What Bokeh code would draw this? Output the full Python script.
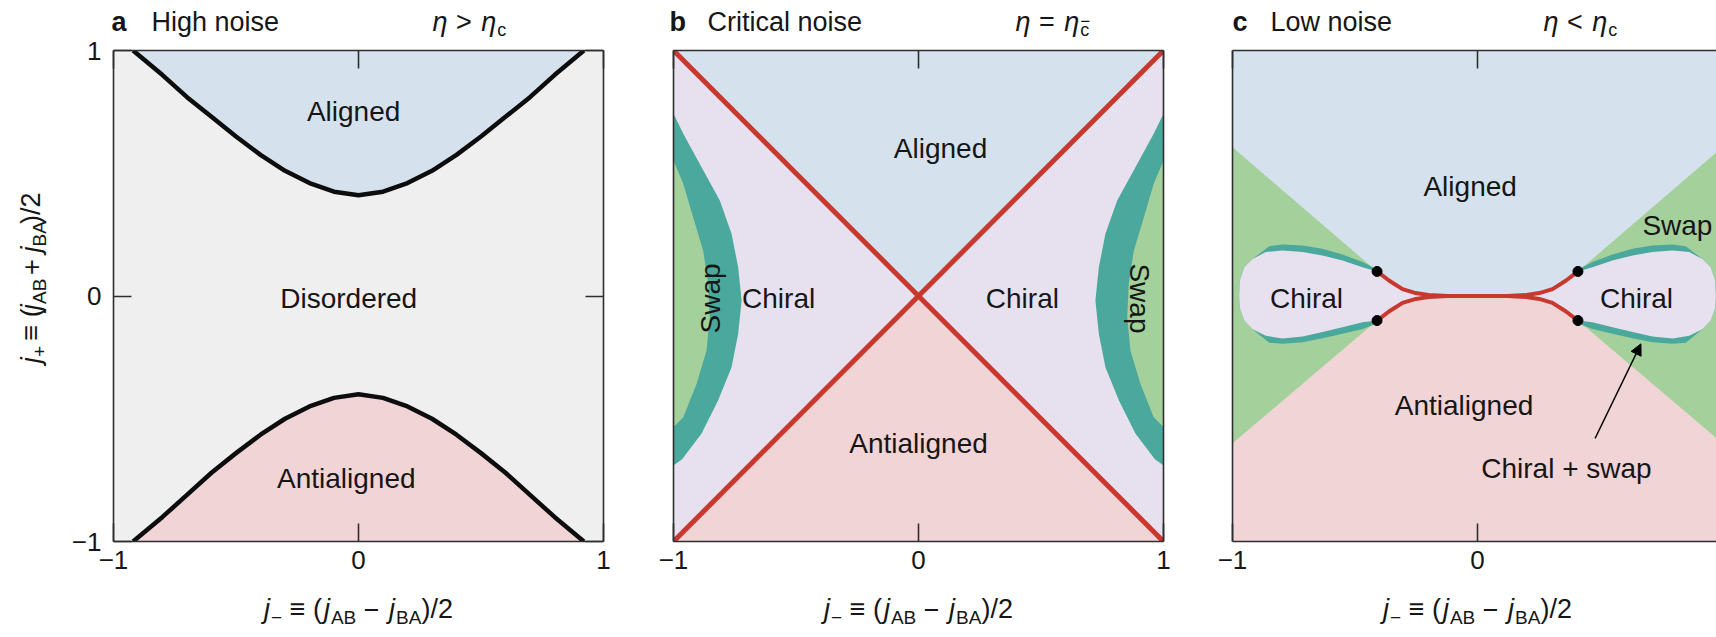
import math
import numpy as np
from bokeh.plotting import figure
from bokeh.layouts import row, column
from bokeh.models import LinearAxis, FixedTicker, Range1d, Arrow, NormalHead
from bokeh.embed import file_html
from bokeh.resources import INLINE
from bokeh.core.properties import value

# ---------------- data ----------------
tick_values = [-1, 0, 1]
tick_labels = ["−1", "0", "1"]

panel_letters = ["a", "b", "c"]
panel_titles = ["High noise", "Critical noise", "Low noise"]
panel_relations = [" > ", " = ", " < "]

# panel a : black phase boundaries
a_x = [-0.92, -0.8, -0.7, -0.6, -0.5, -0.4, -0.3, -0.2, -0.1, 0.0,
       0.1, 0.2, 0.3, 0.4, 0.5, 0.6, 0.7, 0.8, 0.92]
a_upper = [1.0, 0.90, 0.81, 0.73, 0.65, 0.575, 0.51, 0.46, 0.425, 0.41,
           0.425, 0.46, 0.51, 0.575, 0.65, 0.73, 0.81, 0.90, 1.0]
a_lower = [-1.0, -0.90, -0.81, -0.72, -0.64, -0.565, -0.50, -0.45, -0.415, -0.40,
           -0.415, -0.45, -0.50, -0.565, -0.64, -0.72, -0.81, -0.90, -1.0]
a_text = ["Aligned", "Disordered", "Antialigned"]
a_text_x = [-0.02, -0.04, -0.05]
a_text_y = [0.75, -0.01, -0.745]

# panel b : critical lines and swap band (left side; right side mirrored)
b_diag_x = [-1.0, 1.0]
b_diag_up = [-1.0, 1.0]
b_diag_down = [1.0, -1.0]
b_swap_outer_x = [-1.0, -0.960, -0.886, -0.811, -0.763, -0.736, -0.722, -0.736, -0.763, -0.818, -0.886, -0.965, -1.0]
b_swap_outer_y = [0.742, 0.661, 0.525, 0.389, 0.254, 0.117, -0.018, -0.154, -0.29, -0.426, -0.561, -0.665, -0.69]
b_swap_inner_x = [-1.0, -0.96, -0.92, -0.879, -0.858, -0.852, -0.865, -0.906, -0.96, -1.0]
b_swap_inner_y = [0.552, 0.457, 0.321, 0.185, 0.05, -0.086, -0.222, -0.358, -0.494, -0.534]
b_text = ["Aligned", "Chiral", "Chiral", "Antialigned"]
b_text_x = [0.09, -0.571, 0.424, 0.0]
b_text_y = [0.602, -0.01, -0.01, -0.60]
b_swap_text_x = [-0.849, 0.902]
b_swap_text_y = [-0.01, -0.01]

# panel c : swap wedges, chiral lobes, red boundary, exceptional points
c_wedge_x = [-1.0, -0.41, -0.41, -1.0]
c_wedge_y = [0.606, 0.10, -0.10, -0.60]
c_red_x = [-0.41, -0.36, -0.306, -0.252, -0.20, -0.12, 0.0, 0.12, 0.20, 0.252, 0.306, 0.36, 0.41]
c_red_up = [0.10, 0.062, 0.028, 0.012, 0.004, 0.0, 0.0, 0.0, 0.004, 0.012, 0.028, 0.062, 0.10]
c_red_dn = [-0.10, -0.062, -0.028, -0.012, -0.004, 0.0, 0.0, 0.0, -0.004, -0.012, -0.028, -0.062, -0.10]
c_lobe_x = [-0.41, -0.469, -0.551, -0.633, -0.714, -0.796, -0.864, -0.918, -0.952, -0.970, -0.973]
c_lobe_top = [0.10, 0.117, 0.145, 0.165, 0.179, 0.185, 0.179, 0.151, 0.117, 0.063, 0.0]
c_lobe_bot = [-0.10, -0.107, -0.127, -0.147, -0.165, -0.173, -0.162, -0.135, -0.10, -0.05, 0.0]
c_teal_x = [-0.41, -0.469, -0.551, -0.633, -0.714, -0.796, -0.85]
c_teal_top = [0.108, 0.138, 0.169, 0.192, 0.206, 0.210, 0.203]
c_teal_bot = [-0.112, -0.134, -0.154, -0.172, -0.188, -0.195, -0.19]
c_dot_x = [-0.41, -0.41, 0.41, 0.41]
c_dot_y = [0.10, -0.10, 0.10, -0.10]
c_text = ["Aligned", "Swap", "Chiral", "Chiral", "Antialigned", "Chiral + swap"]
c_text_x = [-0.03, 0.816, -0.698, 0.649, -0.055, 0.363]
c_text_y = [0.447, 0.289, -0.011, -0.011, -0.446, -0.704]
c_arrow = dict(x_start=0.48, y_start=-0.58, x_end=0.667, y_end=-0.195)

# ---------------- style ----------------
FONT = "Liberation Sans"
TXT = "#161616"
GRAY = "#efefef"
BLUE = "#d5e2ed"
PINK = "#f1d4d6"
LAV = "#e7e1ef"
GREEN = "#a3d09b"
TEAL = "#4ba89d"
RED = "#c9382f"
EDGE = "#2e2e2e"
PHASE_FS = "28px"

TOP_STRIP = 38          # height of the title strip
FRAME_TOP = 50          # page y of the panel frames' top edge
MID = 0.347             # em-box middle above the alphabetic baseline

WID = {' ': .278, '(': .333, ')': .333, '/': .278, '2': .556, 'A': .667, 'B': .667,
       'j': .222, '−': .584, '+': .584, '≡': .584, '=': .584, '<': .584, '>': .584,
       'η': .556, 'c': .5}


def tw(s, size):
    return sum(WID.get(ch, 0.556) for ch in s) * size


def adv_w(text, size, style):
    return tw(text, size) + (3.0 if style == "italic" else 0)


def seg_total(segs):
    return sum(adv_w(t, s, st) for t, s, st, sh, a in segs if a)


def text_fig(x0, y0, w, h):
    # figure whose data units are page pixels (y measured downward as -y)
    f = figure(width=w, height=h, x_range=Range1d(x0, x0 + w), y_range=Range1d(-(y0 + h), -y0),
               x_axis_location=None, y_axis_location=None, toolbar_location=None,
               output_backend="svg", title=None,
               min_border_left=0, min_border_right=0, min_border_top=0, min_border_bottom=0)
    f.grid.visible = False
    f.outline_line_color = None
    f.border_fill_color = None
    f.background_fill_color = None
    return f


def put(f, px, py_base, text, size, style="normal", angle=0.0, rotate=False):
    # py_base is the alphabetic baseline (page px); drawn with a 'middle' anchor
    if rotate:
        x, y = py_base - MID * size, px
    else:
        x, y = px, py_base - MID * size
    f.text(x=[x], y=[-y], text=[text], angle=angle, text_font=value(FONT),
           text_font_size=f"{size}px", text_font_style=style, text_color=TXT,
           text_align="left", text_baseline="middle", text_line_height=0.8)


def compose(f, segs, start, base, rotate=False):
    cur = start
    for text, size, style, shift, adv in segs:
        lead = (len(text) - len(text.lstrip(" "))) * WID[" "] * size
        if style == "italic":
            lead += 2.0
        shown = text.strip()
        if rotate:
            put(f, cur - lead, base + shift, shown, size, style, angle=math.pi / 2, rotate=True)
        else:
            put(f, cur + lead, base + shift, shown, size, style)
        if adv:
            w = adv_w(text, size, style)
            cur = cur - w if rotate else cur + w


def make_fig(frame_w, x_end, bl, br):
    p = figure(frame_width=frame_w, frame_height=491, x_range=Range1d(-1, x_end),
               y_range=Range1d(-1, 1), x_axis_location=None, y_axis_location=None,
               toolbar_location=None, output_backend="svg", title=None,
               min_border_left=bl, min_border_right=br,
               min_border_top=FRAME_TOP - TOP_STRIP, min_border_bottom=52)
    p.grid.visible = False
    p.outline_line_color = None
    p.border_fill_color = None
    return p


def add_axis(p, loc, ticks, labels):
    ax = LinearAxis(ticker=FixedTicker(ticks=ticks, minor_ticks=[]),
                    major_tick_in=18, major_tick_out=0, minor_tick_in=0, minor_tick_out=0,
                    axis_line_color=EDGE, axis_line_width=1.6,
                    major_tick_line_color=EDGE, major_tick_line_width=1.6)
    if labels:
        ax.major_label_overrides = {v: l for v, l in zip(tick_values, tick_labels)}
        ax.major_label_text_font = FONT
        ax.major_label_text_font_size = "26px"
        ax.major_label_text_color = TXT
        ax.major_label_text_line_height = 0.9
        ax.major_label_standoff = 12 if loc == "left" else 9
    else:
        ax.major_label_text_font_size = "0px"
        ax.major_label_text_color = None
        ax.major_label_standoff = 0
    p.add_layout(ax, loc)


def phase_text(p, xs, ys, texts, angle=0.0):
    p.text(x=xs, y=ys, text=texts, angle=angle, text_font=value(FONT), text_font_size=PHASE_FS,
           text_color=TXT, text_align="center", text_baseline="middle")


XLAB = [("j", 27, "italic", 0, True), ("−", 19, "normal", 6, True), (" ≡ (", 27, "normal", 0, True),
        ("j", 27, "italic", 0, True), ("AB", 19, "normal", 6, True), (" − ", 27, "normal", 0, True),
        ("j", 27, "italic", 0, True), ("BA", 19, "normal", 6, True), (")/2", 27, "normal", 0, True)]
YLAB = [("j", 27, "italic", 0, True), ("+", 19, "normal", 6, True), (" ≡ (", 27, "normal", 0, True),
        ("j", 27, "italic", 0, True), ("AB", 19, "normal", 6, True), (" + ", 27, "normal", 0, True),
        ("j", 27, "italic", 0, True), ("BA", 19, "normal", 6, True), (")/2", 27, "normal", 0, True)]

# ---------------- panel a ----------------
pa = make_fig(490, 1, 44, 35)
pa.background_fill_color = GRAY
pa.varea(x=a_x, y1=a_upper, y2=np.ones(len(a_x)), fill_color=BLUE)
pa.varea(x=a_x, y1=a_lower, y2=-np.ones(len(a_x)), fill_color=PINK)
pa.line(a_x, a_upper, line_color="#0d0d0d", line_width=4.5)
pa.line(a_x, a_lower, line_color="#0d0d0d", line_width=4.5)
phase_text(pa, a_text_x, a_text_y, a_text)
add_axis(pa, "left", tick_values, True)
add_axis(pa, "right", tick_values, False)
add_axis(pa, "above", tick_values, False)
add_axis(pa, "below", tick_values, True)

# ---------------- panel b ----------------
pb = make_fig(490, 1, 35, 34)
pb.background_fill_color = LAV
pb.patch([b_diag_x[0], b_diag_x[1], 0.0], [b_diag_down[0], b_diag_up[1], 0.0], fill_color=BLUE, line_color=None)
pb.patch([b_diag_x[0], b_diag_x[1], 0.0], [b_diag_up[0], b_diag_down[1], 0.0], fill_color=PINK, line_color=None)
for sgn in (1, -1):
    pb.patch([sgn * v for v in b_swap_outer_x], b_swap_outer_y, fill_color=TEAL, line_color=None)
    pb.patch([sgn * v for v in b_swap_inner_x], b_swap_inner_y, fill_color=GREEN, line_color=None)
pb.line(b_diag_x, b_diag_up, line_color=RED, line_width=5)
pb.line(b_diag_x, b_diag_down, line_color=RED, line_width=5)
phase_text(pb, b_text_x, b_text_y, b_text)
phase_text(pb, b_swap_text_x[:1], b_swap_text_y[:1], ["Swap"], angle=math.pi / 2)
phase_text(pb, b_swap_text_x[1:], b_swap_text_y[1:], ["Swap"], angle=-math.pi / 2)
add_axis(pb, "left", [], False)
add_axis(pb, "right", [], False)
add_axis(pb, "above", tick_values, False)
add_axis(pb, "below", tick_values, True)

# ---------------- panel c ----------------
xe = -1 + 485 / 245.0
pc = make_fig(485, xe, 35, 0)
pc.quad(left=-1, right=1, bottom=0, top=1, fill_color=BLUE, line_color=None)
pc.quad(left=-1, right=1, bottom=-1, top=0, fill_color=PINK, line_color=None)
k = 7
lobe_x = c_red_x[4:0:-1] + c_lobe_x + c_lobe_x[::-1][1:] + c_red_x[1:5]
lobe_y = c_red_up[4:0:-1] + c_lobe_top + c_lobe_bot[::-1][1:] + c_red_dn[1:5]
teal_x = c_teal_x + c_lobe_x[k:] + c_lobe_x[k:][::-1] + c_teal_x[::-1]
teal_y = c_teal_top + c_lobe_top[k:] + c_lobe_bot[k:][::-1] + c_teal_bot[::-1]
for sgn in (1, -1):
    pc.patch([sgn * v for v in c_wedge_x], c_wedge_y, fill_color=GREEN, line_color=None)
    pc.patch([sgn * v for v in teal_x], teal_y, fill_color=TEAL, line_color=None)
    pc.patch([sgn * v for v in lobe_x], lobe_y, fill_color=LAV, line_color=None)
pc.line(c_red_x, c_red_up, line_color=RED, line_width=4)
pc.line(c_red_x, c_red_dn, line_color=RED, line_width=4)
pc.scatter(c_dot_x, c_dot_y, size=10, color="black")
phase_text(pc, c_text_x, c_text_y, c_text)
pc.add_layout(Arrow(end=NormalHead(size=11, fill_color="black", line_color="black"),
                    line_color="black", line_width=1.4, **c_arrow))
add_axis(pc, "left", [], False)
add_axis(pc, "above", tick_values, False)
add_axis(pc, "below", tick_values, True)

# ---------------- text strips (titles, axis labels) ----------------
title_strip = text_fig(0, 0, 1716, TOP_STRIP)
TITLE_BASE = 30.5
letter_px = [111, 669, 1232]
title_px = [151, 707, 1270]
rel_px = [430, 1013, 1541]
for i in range(3):
    put(title_strip, letter_px[i], TITLE_BASE, panel_letters[i], 27, "bold")
    put(title_strip, title_px[i], TITLE_BASE, panel_titles[i], 27)
    segs = [("η", 27, "italic", 0, True), (panel_relations[i], 27, "normal", 0, True),
            ("η", 27, "italic", 0, True)]
    if i == 1:
        segs.append(("−", 17, "normal", -4, False))
    segs.append(("c", 18, "normal", 5, True))
    compose(title_strip, segs, rel_px[i], TITLE_BASE)

row_h = (FRAME_TOP - TOP_STRIP) + 491 + 52
ylab_strip = text_fig(0, TOP_STRIP, 68, row_h)
compose(ylab_strip, YLAB, 298 + seg_total(YLAB) / 2, 40, rotate=True)

xl_top = TOP_STRIP + row_h
xlab_strip = text_fig(0, xl_top, 1716, 636 - xl_top)
for cx in (357, 917, 1476):
    compose(xlab_strip, XLAB, cx - seg_total(XLAB) / 2, 618)

layout = column(title_strip, row(ylab_strip, pa, pb, pc), xlab_strip)
open("out.html", "w").write(file_html(layout, INLINE))
